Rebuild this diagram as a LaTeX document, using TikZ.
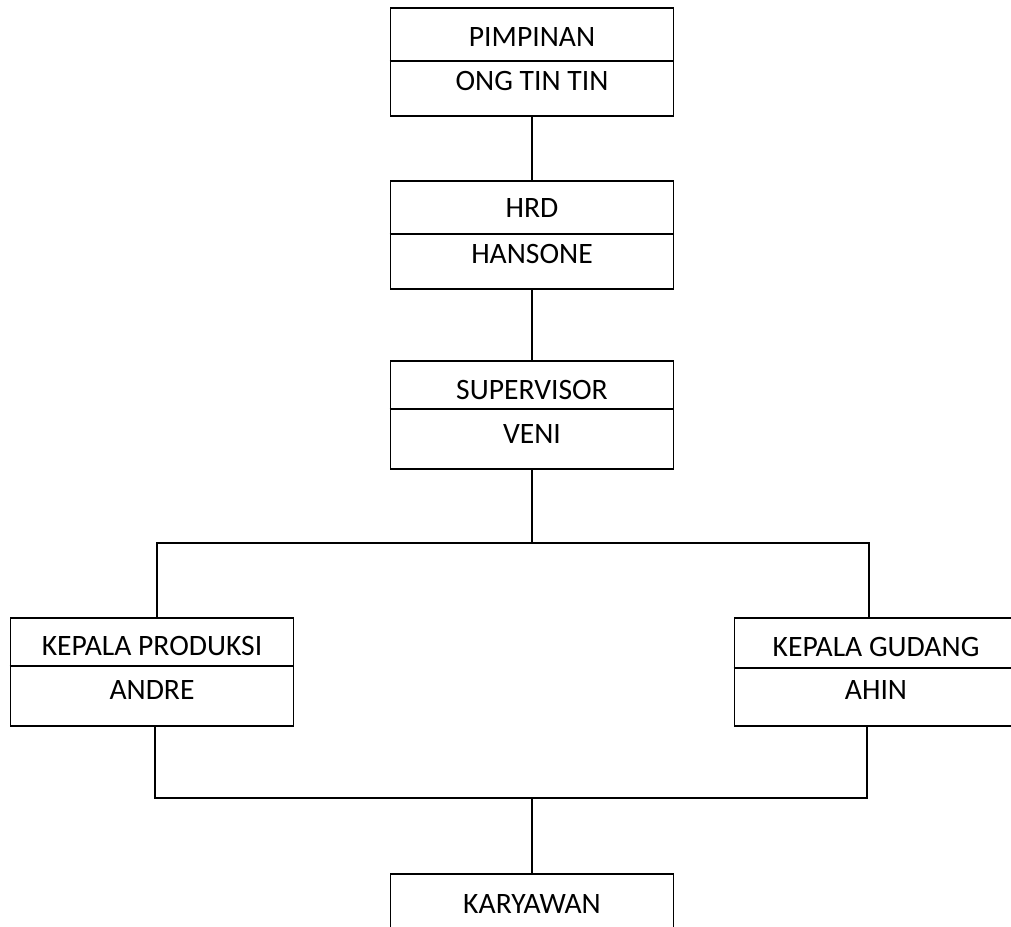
\documentclass[tikz,border=0pt]{standalone}
\usepackage{fontspec}
\setmainfont{Carlito}

\tikzset{
    kotak/.style={draw, line width=1.8pt, minimum width=283pt, minimum height=108pt, inner sep=0pt},
    teks/.style={anchor=base, inner sep=0pt, font=\fontsize{29.6}{35}\selectfont},
    garis/.style={line width=1.8pt},
}

\begin{document}
\begin{tikzpicture}[x=1pt, y=-1pt]
    \useasboundingbox (0,0) rectangle (1011,926);
    \clip (0,0) rectangle (1011,926);

    % Pimpinan
    \node[kotak] (pimpinan) at (532,62) {};
    \draw[garis] (pimpinan.west |- 0,61) -- (pimpinan.east |- 0,61);
    \node[teks] (pimpinan-jabatan) at (532,46) {PIMPINAN};
    \node[teks] (pimpinan-nama) at (532,90) {ONG TIN TIN};

    % HRD
    \node[kotak] (hrd) at (532,235) {};
    \draw[garis] (hrd.west |- 0,234) -- (hrd.east |- 0,234);
    \node[teks] (hrd-jabatan) at (532,217) {HRD};
    \node[teks] (hrd-nama) at (532,263) {HANSONE};

    % Supervisor
    \node[kotak] (supervisor) at (532,415) {};
    \draw[garis] (supervisor.west |- 0,409) -- (supervisor.east |- 0,409);
    \node[teks] (supervisor-jabatan) at (532,399) {SUPERVISOR};
    \node[teks] (supervisor-nama) at (532,443) {VENI};

    % Kepala produksi dan kepala gudang
    \node[kotak] (produksi) at (152,672) {};
    \draw[garis] (produksi.west |- 0,666) -- (produksi.east |- 0,666);
    \node[teks] (produksi-jabatan) at (152,655) {KEPALA PRODUKSI};
    \node[teks] (produksi-nama) at (152,699) {ANDRE};

    \node[kotak] (gudang) at (876,672) {};
    \draw[garis] (gudang.west |- 0,668) -- (gudang.east |- 0,668);
    \node[teks] (gudang-jabatan) at (876,656) {KEPALA GUDANG};
    \node[teks] (gudang-nama) at (876,699) {AHIN};

    % Karyawan
    \node[kotak] (karyawan) at (532,928) {};
    \node[teks] (karyawan-jabatan) at (532,913) {KARYAWAN};

    % Garis penghubung
    \coordinate (cabang) at (532,543);
    \coordinate (gabung) at (532,798);
    \draw[garis] (pimpinan.south) -- (hrd.north);
    \draw[garis] (hrd.south) -- (supervisor.north);
    \draw[garis] (supervisor.south) -- (cabang);
    \draw[garis] ([xshift=5pt]produksi.north) |- (cabang) -| ([xshift=-7pt]gudang.north);
    \draw[garis] ([xshift=3pt]produksi.south) |- (gabung) -| ([xshift=-9pt]gudang.south);
    \draw[garis] (gabung) -- (karyawan.north);
\end{tikzpicture}
\end{document}
